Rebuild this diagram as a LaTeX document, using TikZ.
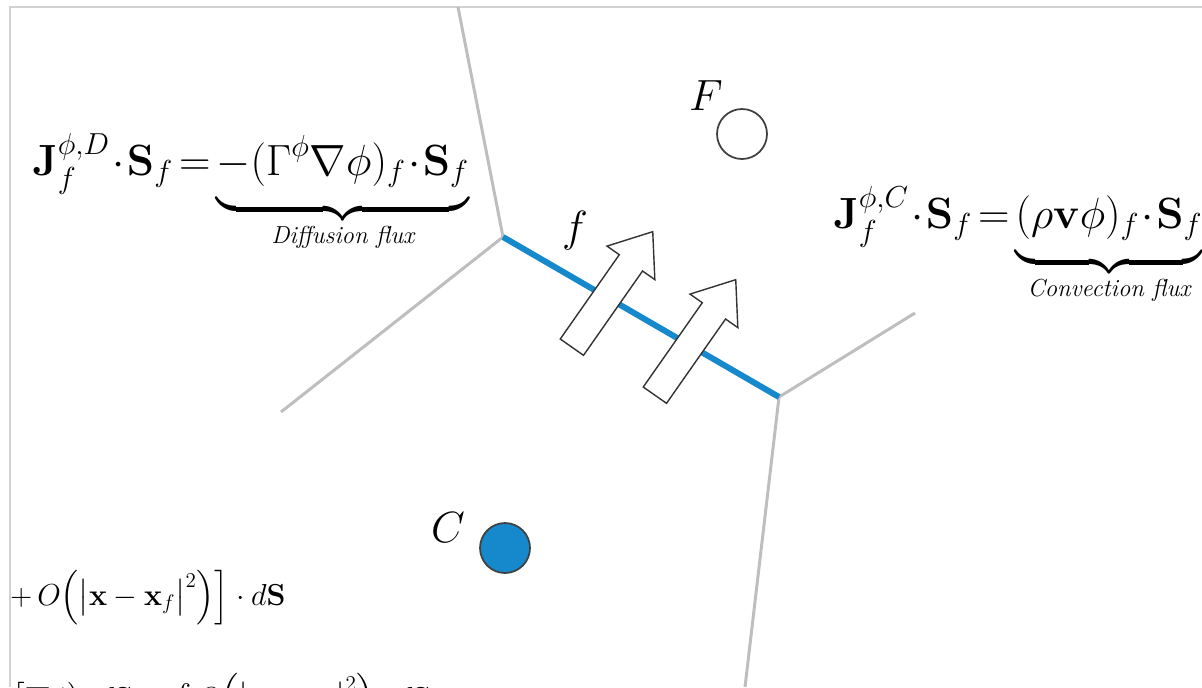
\documentclass[tikz,border=0pt]{standalone}
\usepackage{amsmath}
\usetikzlibrary{shapes.arrows}
\definecolor{faceblue}{RGB}{22,136,204}
\definecolor{edgegray}{RGB}{190,190,190}
\newcommand{\fluxlbl}[1]{\mbox{\fontsize{14}{16}\selectfont\itshape #1}}
\newcommand{\tightmath}{\medmuskip=1mu\thickmuskip=2.5mu}
\begin{document}
\begin{tikzpicture}[x=0.02cm, y=-0.02cm,
  edge/.style={draw=edgegray, line width=1.7pt},
  face/.style={draw=faceblue, line width=3.4pt},
  frame/.style={draw=black!18, line width=1.6pt},
  cellpt/.style={circle, draw=black!75, line width=1pt, minimum size=1cm, inner sep=0pt},
  lbl/.style={font=\fontsize{26}{30}\selectfont},
  eqn/.style={font=\fontsize{26.5}{32}\selectfont\tightmath, inner sep=0pt},
  frag/.style={font=\fontsize{18}{22}\selectfont, inner sep=0pt},
  fluxarrow/.style={single arrow, draw=black!80, fill=white, line width=0.8pt,
    minimum height=2.82cm, inner xsep=0pt, inner ysep=0.27cm,
    single arrow head extend=0.3cm, single arrow tip angle=75}]
\useasboundingbox (0,0) rectangle (1202,687);
\draw[frame] (10,687) -- (10,7) -- (1202,7);
\coordinate (vl) at (503,237);
\coordinate (vr) at (779,397);
\coordinate (top) at (458,7);
\coordinate (lo) at (281,412);
\coordinate (up) at (915,313);
\coordinate (bot) at (745,687);
\draw[edge] (top) -- (vl) -- (lo);
\draw[edge] (up) -- (vr) -- (bot);
\draw[face] (vl) -- (vr);
\node[fluxarrow, rotate=55] (a1) at (607,297) {};
\node[fluxarrow, rotate=55] (a2) at (690,345) {};
\node[cellpt, fill=white] (F) at (742,134) {};
\node[cellpt, fill=faceblue] (C) at (505,548) {};
\node[lbl] (Fl) at (706,96) {$F$};
\node[lbl] (Cl) at (448,528) {$C$};
\node[lbl] (fl) at (575,231) {$f$};
\node[eqn, anchor=base west] (diff) at (32,175)
  {$\tightmath\mathbf{J}_f^{\phi,D}\cdot\mathbf{S}_f=\underbrace{-(\Gamma^{\phi}\nabla\phi)_f\cdot\mathbf{S}_f\vrule height0pt depth15pt width0pt}_{\fluxlbl{Diffusion flux}}$};
\node[eqn, anchor=base west] (conv) at (833,228)
  {$\tightmath\mathbf{J}_f^{\phi,C}\cdot\mathbf{S}_f=\underbrace{(\rho\mathbf{v}\phi)_f\cdot\mathbf{S}_f\vrule height0pt depth15pt width0pt}_{\fluxlbl{Convection flux}}$};
\node[frag, anchor=base east] (tay) at (286,605)
  {$+\,O\Big(\big|\mathbf{x}-\mathbf{x}_f\big|^2\Big)\Big]\cdot d\mathbf{S}$};
\node[frag, anchor=base west] (tail) at (12,708)
  {$\big[\nabla\phi\big)\;\;d\mathbf{S}=\int O\Big(\big|\mathbf{x}-\mathbf{x}_f\big|^2\Big)\cdot d\mathbf{S}$};
\end{tikzpicture}
\end{document}
